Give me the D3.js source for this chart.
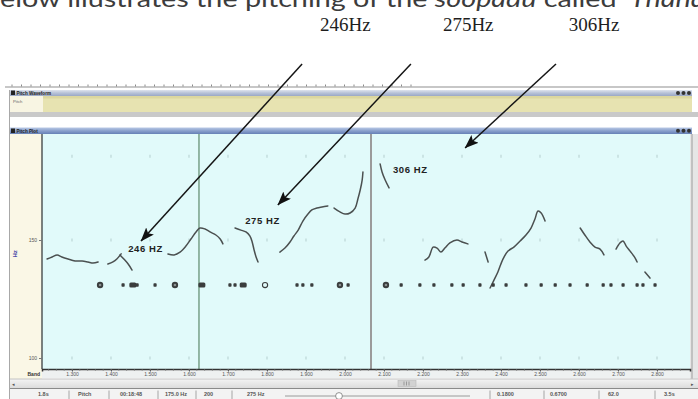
<!DOCTYPE html>
<html>
<head>
<meta charset="utf-8">
<script src="https://cdn.jsdelivr.net/npm/d3@7"></script>
<style>
  html, body { margin: 0; padding: 0; background: #fff; overflow: hidden; }
  svg { display: block; }
</style>
</head>
<body>
<svg id="chart" width="698" height="399"></svg>
<script>
// ---- data -------------------------------------------------------------
// pitch track segments: [time (s), pitch (Hz)]
const segA  = [[1.236,140.5],[1.249,141.5],[1.262,142.5],[1.274,141.5],[1.290,140.5],[1.308,139.6],[1.326,139.6],[1.341,139.1],[1.354,138.6],[1.367,139.1]];
const segA2 = [[1.392,138.1],[1.405,139.1],[1.415,140.5],[1.426,143.0]];
const segA3 = [[1.423,142.5],[1.433,140.5],[1.444,138.1],[1.454,135.3]];
const segB  = [[1.546,143.0],[1.562,142.5],[1.577,143.9],[1.592,146.9],[1.605,150.5],[1.618,154.2],[1.628,156.3],[1.641,155.8],[1.654,154.2],[1.669,152.6],[1.680,150.5],[1.687,148.0]];
const segC  = [[1.718,156.3],[1.733,155.2],[1.746,154.2],[1.756,152.1],[1.762,149.0],[1.767,144.9],[1.772,141.5],[1.777,139.1]];
const segD1 = [[1.833,143.9],[1.846,145.9],[1.859,149.0],[1.869,152.1],[1.880,155.2],[1.892,160.1],[1.905,164.0],[1.915,166.3],[1.928,167.4],[1.941,168.0],[1.956,168.6]];
const segD2 = [[1.972,167.4],[1.987,165.2],[2.000,164.0],[2.013,164.6],[2.026,167.4],[2.033,172.7],[2.039,178.1],[2.044,184.3],[2.046,189.5]];
const segE  = [[2.090,194.8],[2.095,189.5],[2.103,184.3],[2.113,179.4]];
const segF  = [[2.205,140.0],[2.215,141.5],[2.226,146.4],[2.236,145.9],[2.246,143.9],[2.256,145.9],[2.269,148.5],[2.287,150.0],[2.300,149.0],[2.315,148.0]];
const segG  = [[2.359,143.9],[2.367,139.1]];
const segH  = [[2.372,127.2],[2.382,130.7],[2.392,134.4],[2.405,140.5],[2.418,144.4],[2.433,146.4],[2.449,149.5],[2.464,152.6],[2.477,156.3],[2.487,161.2],[2.495,165.7],[2.503,164.6],[2.513,160.1]];
const segI  = [[2.603,156.3],[2.615,152.6],[2.628,149.0],[2.641,146.4],[2.654,145.4],[2.664,142.5]];
const segJ  = [[2.695,145.4],[2.705,148.5],[2.713,149.5],[2.721,146.9],[2.731,144.4],[2.744,141.0],[2.749,139.1]];
const segK  = [[2.769,134.4],[2.782,131.6]];
const pitchSegments = [segA, segA2, segA3, segB, segC, segD1, segD2, segE, segF, segG, segH, segI, segJ, segK];

// syllable markers along the note row
const markerTimes = [1.372,1.431,1.456,1.467,1.513,1.564,1.633,1.705,1.718,1.739,1.795,1.877,1.892,1.915,1.987,2.008,
                     2.105,2.144,2.192,2.228,2.274,2.303,2.346,2.380,2.413,2.464,2.503,2.539,2.577,2.621,2.662,2.682,2.713,2.749,2.764,2.795];
const markerKinds = ["big","dot","wide","dot","dot","big","wide","dot","dot","wide","ring","dot","dot","dot","big","dot",
                     "big","dot","dot","dot","dot","dot","dot","dot","dot","dot","dot","dot","dot","dot","dot","dot","dot","dot","dot","dot"];
const markerHz = 128.5;

// cursor lines (s)
const cursorTimes = [1.6256, 2.0667];

// axis ticks
const xTicks = [1.3,1.4,1.5,1.6,1.7,1.8,1.9,2.0,2.1,2.2,2.3,2.4,2.5,2.6,2.7,2.8];
const xTickLabels = ["1.300","1.400","1.500","1.600","1.700","1.800","1.900","2.000","2.100","2.200","2.300","2.400","2.500","2.600","2.700","2.800"];
const yTicks = [100, 150];
const yTickLabels = ["100", "150"];
const yGridHz = [100, 150, 200];

// note annotations inside the plot
const noteLabels = ["246 HZ", "275 HZ", "306 HZ"];
const noteTimes  = [1.444, 1.744, 2.123];
const noteHz     = [143.9, 158.5, 188.8];

// headline labels and their arrows
const headLabels   = ["246Hz", "275Hz", "306Hz"];
const headTimes    = [1.936, 2.251, 2.574];
const arrowTailT   = [1.890, 2.169, 2.541];
const arrowTailHz  = [274.6, 274.6, 274.6];
const arrowTipT    = [1.477, 1.828, 2.308];
const arrowTipHz   = [149.5, 169.2, 205.8];

// status bar fields
const statusLeft  = ["1.8s", "Pitch", "00:18:48", "175.0 Hz", "200", "275 Hz"];
const statusRight = ["0.1800", "0.6700", "62.0", "3.5s"];

// ---- layout -----------------------------------------------------------
const svg = d3.select("#chart");
const plot = { left: 42, right: 690, top: 134, bottom: 369 };

const x = d3.scaleLinear().domain([1.2231, 2.8846]).range([plot.left, plot.right]);
const y = d3.scaleLog().domain([96.3, 215.9]).range([plot.bottom, plot.top]);

const defs = svg.append("defs");
function vGrad(id, stops) {
  const g = defs.append("linearGradient").attr("id", id).attr("x1", 0).attr("x2", 0).attr("y1", 0).attr("y2", 1);
  stops.forEach((c, i) => g.append("stop").attr("offset", i / (stops.length - 1)).attr("stop-color", c));
}
vGrad("hdr1", ["#dfe4ee", "#b7c2d8", "#9aa8c6"]);
vGrad("hdr2", ["#b9c9e6", "#8aa0cc", "#6580b6"]);
vGrad("bar",  ["#f4f4f4", "#dcdcdc"]);

defs.append("marker")
  .attr("id", "head")
  .attr("viewBox", "0 0 12 9")
  .attr("refX", 11.5).attr("refY", 4.5)
  .attr("markerWidth", 14).attr("markerHeight", 10.5)
  .attr("markerUnits", "userSpaceOnUse")
  .attr("orient", "auto")
  .append("path").attr("d", "M0,0 L12,4.5 L0,9 L2.5,4.5 Z").attr("fill", "#111");

// ---- sentence above the figure (cut by the top edge) --------------------
const sentence = svg.append("text")
  .attr("x", 0).attr("y", 7)
  .attr("font-family", "Lato, 'Open Sans', sans-serif")
  .attr("font-size", 23)
  .attr("fill", "#3c3c3c");
sentence.append("tspan").text("below illustrates the pitching of the ");
sentence.append("tspan").attr("font-style", "italic").text("soopadu");
sentence.append("tspan").text(" called \u2018");
sentence.append("tspan").attr("font-style", "italic").text("Thana");
// stretch the line horizontally so "elow … called" spans the visible width
(function fitSentence() {
  const node = sentence.node();
  const full = "below illustrates the pitching of the soopadu called";
  const eStart = node.getStartPositionOfChar(1).x;
  const calledEnd = node.getEndPositionOfChar(full.length - 1).x;
  const sx = 617 / (calledEnd - eStart);
  sentence.attr("transform", `translate(${-eStart * sx},0) scale(${sx},1)`);
})();

// ---- headline labels ---------------------------------------------------
svg.append("g").selectAll("text").data(headLabels).join("text")
  .attr("x", (d, i) => x(headTimes[i]))
  .attr("y", 31)
  .attr("font-family", "'Liberation Serif', 'Times New Roman', serif")
  .attr("font-size", 19)
  .attr("fill", "#1e1e1e")
  .text(d => d);

// ---- application window chrome ----------------------------------------
const chrome = svg.append("g");

// overview ruler
chrome.append("line").attr("x1", 5).attr("x2", 698).attr("y1", 87).attr("y2", 87)
  .attr("stroke", "#b5b5b5").attr("stroke-width", 1.6);
chrome.append("g").selectAll("line").data(d3.range(12, 412, 9.5)).join("line")
  .attr("x1", d => d).attr("x2", d => d).attr("y1", 84.5).attr("y2", 86.5)
  .attr("stroke", "#8a8a8a").attr("stroke-width", 1);

// panel 1: header + body
chrome.append("rect").attr("x", 10).attr("y", 90).attr("width", 682).attr("height", 6).attr("fill", "url(#hdr1)");
chrome.append("rect").attr("x", 11).attr("y", 90.5).attr("width", 4).attr("height", 4.5).attr("fill", "#222");
chrome.append("text").attr("x", 16.5).attr("y", 94.8).attr("font-family", "'Liberation Sans', Arial, sans-serif")
  .attr("font-size", 4.6).attr("font-weight", "bold").attr("fill", "#222").text("Pitch Waveform");
chrome.append("rect").attr("x", 10).attr("y", 96).attr("width", 33).attr("height", 16).attr("fill", "#f8f5e3");
chrome.append("text").attr("x", 13).attr("y", 103).attr("font-family", "'Liberation Sans', Arial, sans-serif")
  .attr("font-size", 4.2).attr("fill", "#666").text("Pitch");
chrome.append("rect").attr("x", 43).attr("y", 96).attr("width", 649).attr("height", 16).attr("fill", "#e7e3b1");
chrome.append("rect").attr("x", 43).attr("y", 96).attr("width", 649).attr("height", 2.5).attr("fill", "#dcd79f");
chrome.append("rect").attr("x", 10).attr("y", 112).attr("width", 688).attr("height", 5).attr("fill", "#c9c9c9");

// panel 2 header
chrome.append("rect").attr("x", 10).attr("y", 127.5).attr("width", 682).attr("height", 6.5).attr("fill", "url(#hdr2)");
chrome.append("rect").attr("x", 11).attr("y", 128.5).attr("width", 4).attr("height", 4.5).attr("fill", "#222");
chrome.append("text").attr("x", 16.5).attr("y", 132.7).attr("font-family", "'Liberation Sans', Arial, sans-serif")
  .attr("font-size", 4.6).attr("font-weight", "bold").attr("fill", "#222").text("Pitch Plot");

// small zoom icons at the right end of each header
[93, 130.8].forEach(cy => {
  [678, 683.5, 689].forEach(cx => {
    chrome.append("circle").attr("cx", cx).attr("cy", cy).attr("r", 2).attr("fill", "#333");
  });
});

// window frame
chrome.append("rect").attr("x", 690).attr("y", 134).attr("width", 8).attr("height", 246).attr("fill", "#e6e6e6");
chrome.append("line").attr("x1", 692).attr("x2", 692).attr("y1", 134).attr("y2", 380).attr("stroke", "#9c9c9c").attr("stroke-width", 1);
chrome.append("rect").attr("x", 10).attr("y", 134).attr("width", 32).attr("height", 245).attr("fill", "#faf7e6");
chrome.append("line").attr("x1", 9.5).attr("x2", 9.5).attr("y1", 90).attr("y2", 399).attr("stroke", "#a8a8a8");

// plot background
const plotG = svg.append("g");
plotG.append("rect")
  .attr("x", plot.left).attr("y", plot.top)
  .attr("width", plot.right - plot.left).attr("height", plot.bottom - plot.top)
  .attr("fill", "#e1fafa");

// faint grid marks at tick intersections
const gridPts = [];
xTicks.forEach(t => yGridHz.forEach(h => gridPts.push([t, h])));
plotG.append("g").selectAll("line").data(gridPts).join("line")
  .attr("x1", d => x(d[0])).attr("x2", d => x(d[0]))
  .attr("y1", d => y(d[1]) - 1.5).attr("y2", d => y(d[1]) + 1.5)
  .attr("stroke", "#bcd6d6").attr("stroke-width", 1.2);

// cursor lines
plotG.append("line")
  .attr("x1", x(cursorTimes[0])).attr("x2", x(cursorTimes[0]))
  .attr("y1", plot.top).attr("y2", plot.bottom)
  .attr("stroke", "#5d8a6c").attr("stroke-width", 1.2);
plotG.append("line")
  .attr("x1", x(cursorTimes[1])).attr("x2", x(cursorTimes[1]))
  .attr("y1", plot.top).attr("y2", plot.bottom)
  .attr("stroke", "#9b9b9b").attr("stroke-width", 2);

// pitch contours
const line = d3.line().x(d => x(d[0])).y(d => y(d[1])).curve(d3.curveCatmullRom.alpha(0.5));
plotG.append("g").selectAll("path").data(pitchSegments).join("path")
  .attr("d", line)
  .attr("fill", "none")
  .attr("stroke", "#4b5050")
  .attr("stroke-width", 1.5)
  .attr("stroke-linecap", "round")
  .attr("stroke-linejoin", "round");

// syllable markers
const my = y(markerHz);
const mg = plotG.append("g").attr("fill", "#3a3d3d");
markerTimes.forEach((t, i) => {
  const cx = x(t), k = markerKinds[i];
  if (k === "big") {
    mg.append("circle").attr("cx", cx).attr("cy", my).attr("r", 3.2);
    mg.append("circle").attr("cx", cx).attr("cy", my).attr("r", 1.3).attr("fill", "#8a9090");
  } else if (k === "ring") {
    mg.append("circle").attr("cx", cx).attr("cy", my).attr("r", 2.6).attr("fill", "none")
      .attr("stroke", "#3a3d3d").attr("stroke-width", 1.1);
  } else if (k === "wide") {
    mg.append("rect").attr("x", cx - 3.5).attr("y", my - 2.5).attr("width", 7).attr("height", 5).attr("rx", 1.5);
  } else {
    mg.append("rect").attr("x", cx - 1.6).attr("y", my - 1.8).attr("width", 3.2).attr("height", 3.6).attr("rx", 0.8);
  }
});

// note annotations
plotG.append("g").selectAll("text").data(noteLabels).join("text")
  .attr("x", (d, i) => x(noteTimes[i]))
  .attr("y", (d, i) => y(noteHz[i]))
  .attr("font-family", "'Liberation Sans', Arial, sans-serif")
  .attr("font-size", 9.5)
  .attr("font-weight", "bold")
  .attr("letter-spacing", 0.6)
  .attr("fill", "#222")
  .text(d => d);

// left axis
plotG.append("line").attr("x1", plot.left).attr("x2", plot.left).attr("y1", plot.top).attr("y2", plot.bottom)
  .attr("stroke", "#3b3f40").attr("stroke-width", 1.3);
const yAxisG = svg.append("g").attr("transform", `translate(${plot.left},0)`)
  .call(d3.axisLeft(y).tickValues(yTicks).tickFormat((d, i) => yTickLabels[i]).tickSize(3).tickPadding(2));
yAxisG.select(".domain").remove();
yAxisG.selectAll("text").attr("font-size", 5).attr("fill", "#555").attr("font-family", "'Liberation Sans', Arial, sans-serif");
yAxisG.selectAll(".tick line").attr("stroke", "#777");
svg.append("text")
  .attr("transform", `translate(17,${y(143)}) rotate(-90)`)
  .attr("text-anchor", "middle")
  .attr("font-family", "'Liberation Sans', Arial, sans-serif")
  .attr("font-size", 6).attr("font-weight", "bold").attr("fill", "#4a4aa8")
  .text("Hz");

// bottom axis strip
svg.append("rect").attr("x", plot.left).attr("y", plot.bottom).attr("width", plot.right - plot.left).attr("height", 9)
  .attr("fill", "#eef1f1");
const xAxisG = svg.append("g").attr("transform", `translate(0,${plot.bottom})`)
  .call(d3.axisBottom(x).tickValues(xTicks).tickFormat((d, i) => xTickLabels[i]).tickSize(2.5).tickPadding(0.5));
xAxisG.select(".domain").attr("stroke", "#333").attr("stroke-width", 1.5);
xAxisG.selectAll("text").attr("font-size", 5).attr("fill", "#555").attr("font-family", "'Liberation Sans', Arial, sans-serif");
xAxisG.selectAll(".tick line").attr("stroke", "#555");
svg.append("g").selectAll("line").data(d3.range(1.24, 2.88, 0.02)).join("line")
  .attr("x1", d => x(d)).attr("x2", d => x(d))
  .attr("y1", plot.bottom).attr("y2", plot.bottom + 1.6)
  .attr("stroke", "#666").attr("stroke-width", 0.8);
svg.append("text").attr("x", 40).attr("y", 376).attr("text-anchor", "end")
  .attr("font-family", "'Liberation Sans', Arial, sans-serif")
  .attr("font-size", 5).attr("font-weight", "bold").attr("fill", "#333").text("Band");

// scroll bar
svg.append("rect").attr("x", 10).attr("y", 379).attr("width", 688).attr("height", 9).attr("fill", "url(#bar)");
svg.append("line").attr("x1", 10).attr("x2", 698).attr("y1", 379).attr("y2", 379).attr("stroke", "#c4c4c4");
svg.append("rect").attr("x", 398).attr("y", 380.5).attr("width", 18).attr("height", 6).attr("fill", "#d2d2d2").attr("stroke", "#b9b9b9").attr("stroke-width", 0.6);
[404, 406.5, 409].forEach(px => svg.append("line").attr("x1", px).attr("x2", px).attr("y1", 381.5).attr("y2", 385.5).attr("stroke", "#999"));
svg.append("text").attr("x", 12).attr("y", 386).attr("font-size", 5).attr("fill", "#555").text("\u25C2");
svg.append("text").attr("x", 691).attr("y", 386).attr("font-size", 5).attr("fill", "#555").text("\u25B8");

// status bar
svg.append("rect").attr("x", 10).attr("y", 388.5).attr("width", 688).attr("height", 11).attr("fill", "#f3f3f3");
svg.append("line").attr("x1", 10).attr("x2", 698).attr("y1", 388.5).attr("y2", 388.5).attr("stroke", "#8a8a8a");
const statusLeftX = [38, 78, 120, 165, 204, 247];
const statusRightX = [497, 550, 608, 664];
const sepX = [69, 109, 158, 196, 232, 490, 544, 599, 655];
const statusFont = "'Liberation Sans', Arial, sans-serif";
svg.append("g").selectAll("text").data(statusLeft).join("text")
  .attr("x", (d, i) => statusLeftX[i]).attr("y", 396)
  .attr("font-family", statusFont).attr("font-size", 5.5).attr("font-weight", "bold").attr("fill", "#555")
  .text(d => d);
svg.append("g").selectAll("text").data(statusRight).join("text")
  .attr("x", (d, i) => statusRightX[i]).attr("y", 396)
  .attr("font-family", statusFont).attr("font-size", 5.5).attr("font-weight", "bold").attr("fill", "#555")
  .text(d => d);
svg.append("g").selectAll("line").data(sepX).join("line")
  .attr("x1", d => d).attr("x2", d => d).attr("y1", 390.5).attr("y2", 399)
  .attr("stroke", "#a5a5a5");
svg.append("line").attr("x1", 285).attr("x2", 470).attr("y1", 396).attr("y2", 396).attr("stroke", "#9a9a9a").attr("stroke-width", 1);
svg.append("circle").attr("cx", 339).attr("cy", 396).attr("r", 3.4).attr("fill", "#fff").attr("stroke", "#777").attr("stroke-width", 0.8);

// arrows from headline labels to the annotated notes
svg.append("g").selectAll("line").data(arrowTipT).join("line")
  .attr("x1", (d, i) => x(arrowTailT[i])).attr("y1", (d, i) => y(arrowTailHz[i]))
  .attr("x2", (d, i) => x(arrowTipT[i])).attr("y2", (d, i) => y(arrowTipHz[i]))
  .attr("stroke", "#151515").attr("stroke-width", 1.5)
  .attr("marker-end", "url(#head)");
</script>
</body>
</html>
